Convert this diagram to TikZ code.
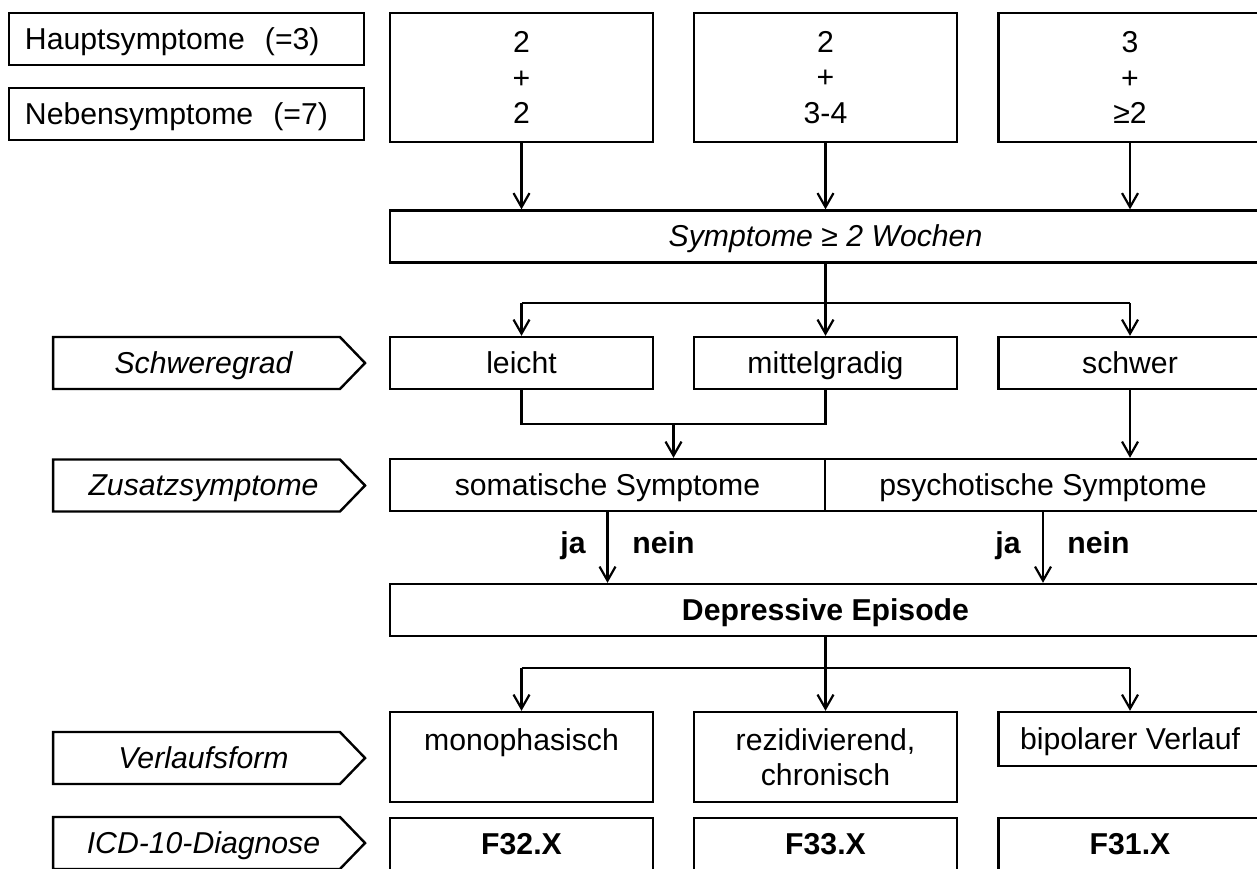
\documentclass[tikz,border=0pt]{standalone}
\usepackage{fontspec}
\setmainfont{Liberation Sans}
\usetikzlibrary{arrows.meta,shapes.symbols}
\begin{document}
\fontsize{15.1}{17.75}\selectfont
\begin{tikzpicture}[x=0.5pt,y=-0.5pt,
  frame/.style={draw,line width=1.2pt,inner sep=0pt},
  line/.style={text height=13.5pt,text depth=3.2pt},
  box/.style={frame,minimum width=131.5pt,align=center},
  rowbox/.style={frame,line,minimum width=131.5pt,minimum height=26pt},
  wide/.style={frame,line,minimum width=435.5pt,minimum height=26pt},
  half/.style={frame,line,minimum height=26pt},
  tag/.style={frame,line,signal,signal to=east,signal pointer angle=92,
    minimum width=156pt,minimum height=26pt,font=\itshape},
  legend/.style={frame,line,minimum height=26pt,text width=161.5pt,
    inner xsep=8pt,align=left},
  link/.style={line width=1.1pt},
  arr/.style={link,-{Straight Barb[length=7pt,width=8pt,line width=1.1pt]}},
  lab/.style={line,inner sep=0pt,font=\bfseries}]
\useasboundingbox (0,0) rectangle (1257,868);
\clip (0,0) rectangle (1257,868);

% legend on the upper left
\node[legend] (haupt) at (186.5,39) {Hauptsymptome\ \ (=3)};
\node[legend] (neben) at (186.5,114) {Nebensymptome\ \ (=7)};

% symptom counts
\node[box,minimum height=64.5pt] (c1) at (521.5,77.5) {2\\+\\2};
\node[box,minimum height=64.5pt] (c2) at (825.5,77.5) {2\\+\\3-4};
\node[box,minimum height=64.5pt] (c3) at (1130,77.5) {3\\+\\≥2};

% duration
\node[wide] (sym) at (825.5,236.5) {\itshape Symptome ≥ 2 Wochen};
\draw[arr] (c1.south) -- (c1.south |- sym.north);
\draw[arr] (c2.south) -- (c2.south |- sym.north);
\draw[arr] (c3.south) -- (c3.south |- sym.north);

% severity
\node[tag] (tsev) at (196.5,363) {\hspace*{7pt}Schweregrad};
\node[rowbox] (leicht) at (521.5,363) {leicht};
\node[rowbox] (mittel) at (825.5,363) {mittelgradig};
\node[rowbox] (schwer) at (1130,363) {schwer};
\coordinate (j1) at (825.5,303);
\draw[arr] (sym.south) -- (mittel.north);
\draw[link] (j1 -| leicht.north) -- (j1 -| schwer.north);
\draw[arr] (j1 -| leicht.north) -- (leicht.north);
\draw[arr] (j1 -| schwer.north) -- (schwer.north);

% additional symptoms
\node[tag] (tadd) at (196.5,485.5) {\hspace*{7pt}Zusatzsymptome};
\node[half,minimum width=217.5pt] (som) at (607.5,485) {somatische Symptome};
\node[half,minimum width=218pt] (psy) at (1043,485) {psychotische Symptome};
\coordinate (j2) at (673.5,424);
\draw[link] (leicht.south) |- (mittel.south |- j2) -- (mittel.south);
\draw[arr] (j2) -- (j2 |- som.north);
\draw[arr] (schwer.south) -- (schwer.south |- psy.north);

% episode
\node[wide,font=\bfseries] (dep) at (825.5,610) {Depressive Episode};
\draw[arr] (som.south) -- (som.south |- dep.north);
\draw[arr] (psy.south) -- (psy.south |- dep.north);
\node[lab,anchor=east] (ja1) at (586,543) {ja};
\node[lab,anchor=west] (nein1) at (632,543) {nein};
\node[lab,anchor=east] (ja2) at (1021,543) {ja};
\node[lab,anchor=west] (nein2) at (1067,543) {nein};

% course
\node[tag] (tcourse) at (196.5,758) {\hspace*{7pt}Verlaufsform};
\node[box,minimum height=45pt] (mono) at (521.5,757) {monophasisch\\\phantom{chronisch}};
\node[box,minimum height=45pt] (rezi) at (825.5,757) {rezidivierend,\\chronisch};
\node[rowbox,minimum height=27pt] (bip) at (1130,739) {bipolarer Verlauf};
\coordinate (j3) at (825.5,668);
\draw[arr] (dep.south) -- (rezi.north);
\draw[link] (j3 -| mono.north) -- (j3 -| bip.north);
\draw[arr] (j3 -| mono.north) -- (mono.north);
\draw[arr] (j3 -| bip.north) -- (bip.north);

% diagnosis codes
\node[tag] (ticd) at (196.5,843) {\hspace*{7pt}ICD-10-Diagnose};
\node[rowbox,font=\bfseries] (f1) at (521.5,844) {F32.X};
\node[rowbox,font=\bfseries] (f2) at (825.5,844) {F33.X};
\node[rowbox,font=\bfseries] (f3) at (1130,844) {F31.X};
\end{tikzpicture}
\end{document}
